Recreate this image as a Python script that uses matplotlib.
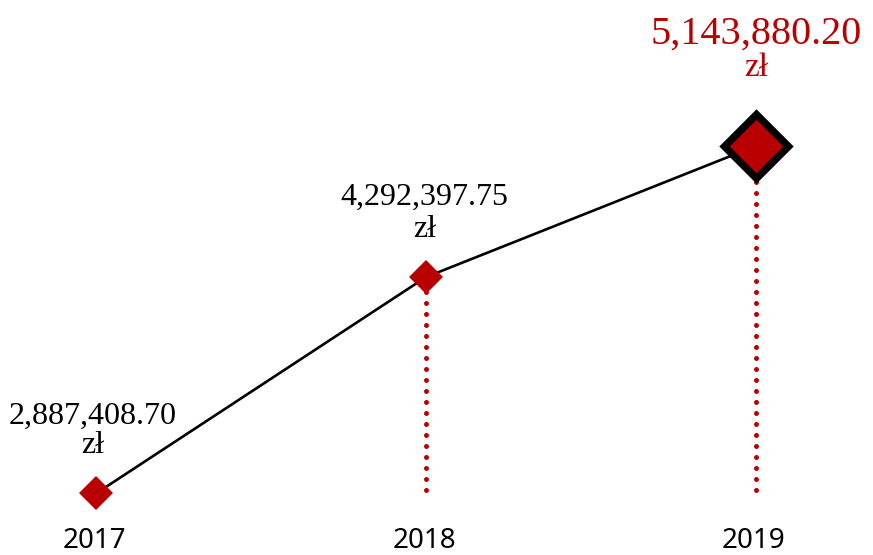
import matplotlib
matplotlib.use("Agg")
import matplotlib.pyplot as plt

years = [2017, 2018, 2019]
values = [2887408.70, 4292397.75, 5143880.20]
value_labels = ["2,887,408.70", "4,292,397.75", "5,143,880.20"]
currency = "zł"
year_labels = ["2017", "2018", "2019"]

RED = "#B80000"

fig = plt.figure(figsize=(8.73, 5.55), dpi=100)
ax = fig.add_axes([0, 65 / 555, 1, 490 / 555])
ax.set_xlim(2016.709, 2019.355)
ax.set_ylim(2910135, 6091902)
ax.axis("off")

# drop lines (dotted) from baseline to each point except the first
ymin = ax.get_ylim()[0]
for x, v in zip(years[1:], values[1:]):
    ax.plot([x, x], [ymin, v], color=RED, lw=3.6, linestyle=(0, (0.01, 2.19)),
            dash_capstyle="round", solid_capstyle="round", zorder=1, clip_on=False)

# connecting line
ax.plot(years, values, color="black", lw=1.9, zorder=2, clip_on=False)

# markers
ax.plot(years[:-1], values[:-1], linestyle="none", marker="D", ms=17.8,
        mfc=RED, mec=RED, mew=0, zorder=3, clip_on=False)
ax.plot(years[-1:], values[-1:], linestyle="none", marker="D", ms=32.3,
        mfc=RED, mec="black", mew=5.3, zorder=3, clip_on=False)

# value labels
num_off = [70, 72, 102]
cur_off = [40, 40, 70]
x_off = [-3, -1.5, 0]
num_sizes = [23, 23, 29]
cur_sizes = [23, 23, 24]
colors = ["black", "black", RED]
for i, (x, v) in enumerate(zip(years, values)):
    ax.annotate(value_labels[i], (x, v), xytext=(x_off[i] * 0.72, num_off[i] * 0.72),
                textcoords="offset points", ha="center", va="baseline",
                fontsize=num_sizes[i], color=colors[i], family="Liberation Serif",
                annotation_clip=False)
    ax.annotate(currency, (x, v), xytext=(x_off[i] * 0.72, cur_off[i] * 0.72),
                textcoords="offset points", ha="center", va="baseline",
                fontsize=cur_sizes[i], color=colors[i], family="Liberation Serif",
                annotation_clip=False)

# year labels
for x, lab in zip(years, year_labels):
    ax.annotate(lab, (x, 0), xycoords=("data", "axes fraction"),
                xytext=(-2 * 0.72, -65 * 0.72), textcoords="offset points",
                ha="center", va="bottom", fontsize=20, family="Noto Sans",
                color="black", annotation_clip=False)

fig.savefig("out.png", dpi=100)
